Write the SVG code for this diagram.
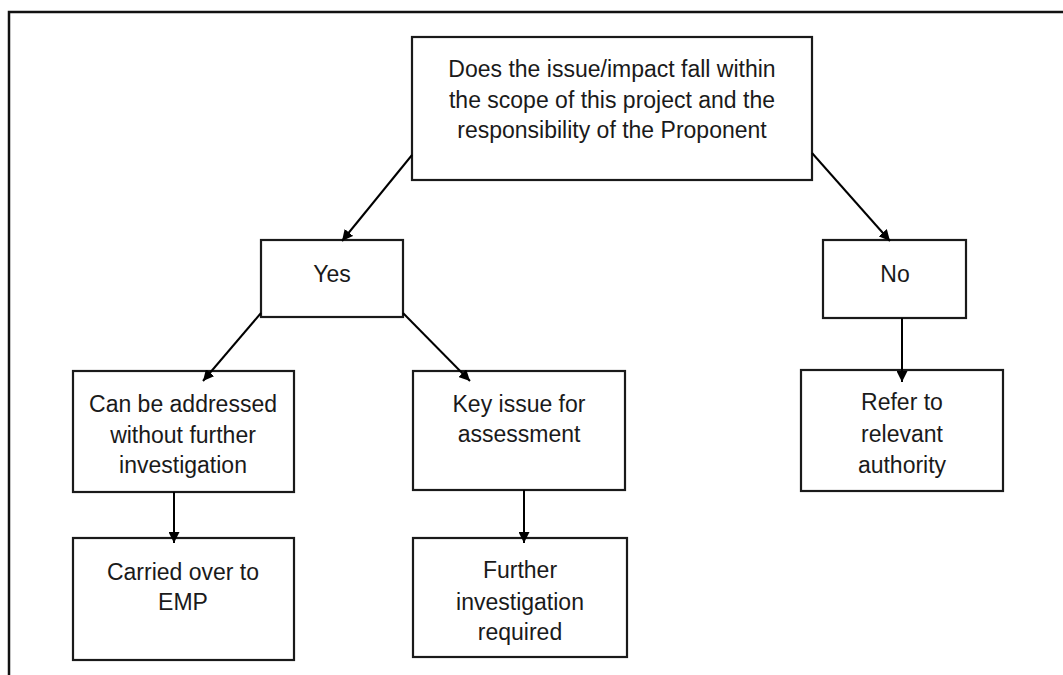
<svg xmlns="http://www.w3.org/2000/svg" width="1063" height="675" viewBox="0 0 1063 675">
  <defs>
    <marker id="arrow" viewBox="0 0 10 10" refX="10" refY="5" markerWidth="11" markerHeight="11" markerUnits="userSpaceOnUse" orient="auto">
      <path d="M0,0 L10,5 L0,10 z" fill="#000"/>
    </marker>
    <style>
      .box { fill: #fff; stroke: #1a1a1a; stroke-width: 2.2; }
      .lbl { font-family: "Liberation Sans", Arial, sans-serif; font-size: 23px; fill: #1a1a1a; text-anchor: middle; }
      .conn { stroke: #000; stroke-width: 2; fill: none; marker-end: url(#arrow); }
    </style>
  </defs>
  <rect width="1063" height="675" fill="#fff"/>
  <path d="M9,675 V12 H1063" fill="none" stroke="#111" stroke-width="2.5"/>

  <g id="question">
    <rect class="box" x="412" y="37" width="400" height="143"/>
    <text class="lbl" x="612" y="77">Does the issue/impact fall within</text>
    <text class="lbl" x="612" y="108">the scope of this project and the</text>
    <text class="lbl" x="612" y="138">responsibility of the Proponent</text>
  </g>

  <g id="yes">
    <rect class="box" x="261" y="240" width="142" height="77"/>
    <text class="lbl" x="332" y="282">Yes</text>
  </g>

  <g id="no">
    <rect class="box" x="823" y="240" width="143" height="78"/>
    <text class="lbl" x="895" y="282">No</text>
  </g>

  <g id="can-be-addressed">
    <rect class="box" x="73" y="371" width="221" height="121"/>
    <text class="lbl" x="183" y="412">Can be addressed</text>
    <text class="lbl" x="183" y="443">without further</text>
    <text class="lbl" x="183" y="473">investigation</text>
  </g>

  <g id="carried-over">
    <rect class="box" x="73" y="538" width="221" height="122"/>
    <text class="lbl" x="183" y="580">Carried over to</text>
    <text class="lbl" x="183" y="610">EMP</text>
  </g>

  <g id="key-issue">
    <rect class="box" x="413" y="371" width="212" height="119"/>
    <text class="lbl" x="519" y="412">Key issue for</text>
    <text class="lbl" x="519" y="442">assessment</text>
  </g>

  <g id="further-investigation">
    <rect class="box" x="413" y="538" width="214" height="119"/>
    <text class="lbl" x="520" y="578">Further</text>
    <text class="lbl" x="520" y="610">investigation</text>
    <text class="lbl" x="520" y="640">required</text>
  </g>

  <g id="refer">
    <rect class="box" x="801" y="370" width="202" height="121"/>
    <text class="lbl" x="902" y="410">Refer to</text>
    <text class="lbl" x="902" y="442">relevant</text>
    <text class="lbl" x="902" y="473">authority</text>
  </g>

  <g id="connectors">
    <line class="conn" x1="412" y1="155" x2="342" y2="241"/>
    <line class="conn" x1="812" y1="153" x2="890" y2="241"/>
    <line class="conn" x1="261" y1="313" x2="203" y2="381"/>
    <line class="conn" x1="403" y1="313" x2="470" y2="381"/>
    <line class="conn" x1="174" y1="492" x2="174" y2="543"/>
    <line class="conn" x1="524" y1="490" x2="524" y2="543"/>
    <line class="conn" x1="902" y1="318" x2="902" y2="382"/>
  </g>
</svg>
